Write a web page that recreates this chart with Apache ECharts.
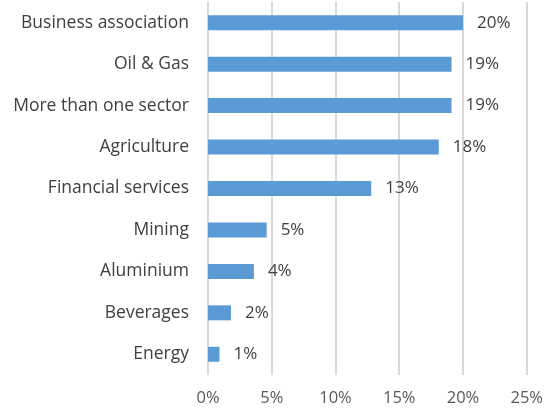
<!DOCTYPE html>
<html><head><meta charset="utf-8">
<script src="https://cdn.jsdelivr.net/npm/echarts@6/dist/echarts.min.js"></script>
<style>html,body{margin:0;padding:0;background:#fff}#c{width:546px;height:411px}</style>
</head><body><div id="c"></div>
<script>
const categories = ["Business association","Oil & Gas","More than one sector","Agriculture","Financial services","Mining","Aluminium","Beverages","Energy"];
const values = [20.0, 19.1, 19.1, 18.1, 12.8, 4.6, 3.6, 1.8, 0.9];
const tickStep = 5;
const axisMax = 25;

const chart = echarts.init(document.getElementById('c'));
const font = '"Open Sans", sans-serif';
chart.setOption({
  animation: false,
  grid: {left: 208, right: 18, top: 2, bottom: 36},
  xAxis: {
    type: 'value', min: 0, max: axisMax, interval: tickStep,
    axisLine: {show: false}, axisTick: {show: false},
    splitLine: {lineStyle: {color: '#d9d9d9', width: 2}},
    axisLabel: {formatter: v => v + '%', color: '#595959', fontFamily: font, fontSize: 16.5, margin: 15}
  },
  yAxis: {
    type: 'category', data: categories.slice().reverse(),
    axisLine: {show: false}, axisTick: {show: false},
    axisLabel: {color: '#404040', fontFamily: font, fontSize: 17.5, margin: 19}
  },
  series: [{
    type: 'bar', data: values.slice().reverse(), barWidth: 15,
    itemStyle: {color: '#5b9bd5'},
    label: {show: true, position: 'right', distance: 14, color: '#404040', fontFamily: font, fontSize: 17,
      formatter: p => Math.round(p.value) + '%'}
  }]
});
</script></body></html>
